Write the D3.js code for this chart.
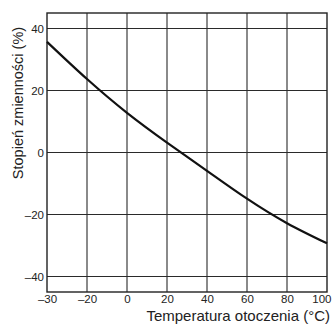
<!DOCTYPE html>
<html>
<head>
<meta charset="utf-8">
<script src="https://cdn.jsdelivr.net/npm/d3@7"></script>
<style>
  body { margin: 0; background: #fff; }
  text { font-family: "Liberation Sans", Arial, sans-serif; fill: #222; }
</style>
</head>
<body>
<div id="chart"></div>
<script>
// values
var temps = [-30, -20, 0, 20, 40, 60, 80, 100];
var change = [35.7, 23.7, 12.8, 3.2, -5.9, -14.9, -22.8, -29.3];
var xTicks = [-30, -20, 0, 20, 40, 60, 80, 100];
var yTicks = [-40, -20, 0, 20, 40];

var width = 332, height = 325;
var mLeft = 47, mRight = 327, mTop = 13, mBottom = 292;

var svg = d3.select('#chart').append('svg')
	.attr('width', width)
	.attr('height', height);

// the original axis squeezes -30..-20 into the same width as 20 degrees
var x = d3.scaleLinear().domain([-30, -20, 100]).range([mLeft, mLeft + 40, mRight]);
var y = d3.scaleLinear().domain([-45, 45]).range([mBottom, mTop]);

function fmt(d) { return d < 0 ? '\u2013' + Math.abs(d) : '' + d; }

// grid
svg.append('g').selectAll('line')
	.data(xTicks.slice(1, -1))
	.enter().append('line')
	.attr('x1', function(d) { return x(d); })
	.attr('x2', function(d) { return x(d); })
	.attr('y1', mTop).attr('y2', mBottom)
	.attr('stroke', '#2a2a2a').attr('stroke-width', 1.1);

svg.append('g').selectAll('line')
	.data(yTicks)
	.enter().append('line')
	.attr('x1', mLeft).attr('x2', mRight)
	.attr('y1', function(d) { return y(d); })
	.attr('y2', function(d) { return y(d); })
	.attr('stroke', '#2a2a2a').attr('stroke-width', 1.1);

// frame
svg.append('rect')
	.attr('x', mLeft).attr('y', mTop)
	.attr('width', mRight - mLeft).attr('height', mBottom - mTop)
	.attr('fill', 'none').attr('stroke', '#222').attr('stroke-width', 1.4);

// axes (labels only, ticks are the grid)
var xAxis = svg.append('g')
	.attr('transform', 'translate(0,' + mBottom + ')')
	.call(d3.axisBottom(x).tickValues(xTicks).tickFormat(fmt).tickSize(0).tickPadding(3));
var yAxis = svg.append('g')
	.attr('transform', 'translate(' + mLeft + ',0)')
	.call(d3.axisLeft(y).tickValues(yTicks).tickFormat(fmt).tickSize(0).tickPadding(3));
[xAxis, yAxis].forEach(function(a) {
	a.select('.domain').remove();
	a.selectAll('text').attr('font-size', 11.5).attr('fill', '#222')
		.attr('font-family', '"Liberation Sans", Arial, sans-serif');
});
// keep "100" inside the window like the original
xAxis.selectAll('.tick text').filter(function(d) { return d === 100; })
	.attr('text-anchor', 'end').attr('dx', 4);

// curve
var line = d3.line()
	.x(function(d, i) { return x(temps[i]); })
	.y(function(d) { return y(d); })
	.curve(d3.curveNatural);

svg.append('path')
	.datum(change)
	.attr('d', line)
	.attr('fill', 'none')
	.attr('stroke', '#111')
	.attr('stroke-width', 2.2);

// titles
svg.append('text')
	.attr('x', 330).attr('y', 321)
	.attr('text-anchor', 'end')
	.attr('font-size', 15)
	.text('Temperatura otoczenia (\u00B0C)');

svg.append('text')
	.attr('transform', 'translate(23,103) rotate(-90)')
	.attr('text-anchor', 'middle')
	.attr('font-size', 14.5)
	.text('Stopień zmienności (%)');
</script>
</body>
</html>
